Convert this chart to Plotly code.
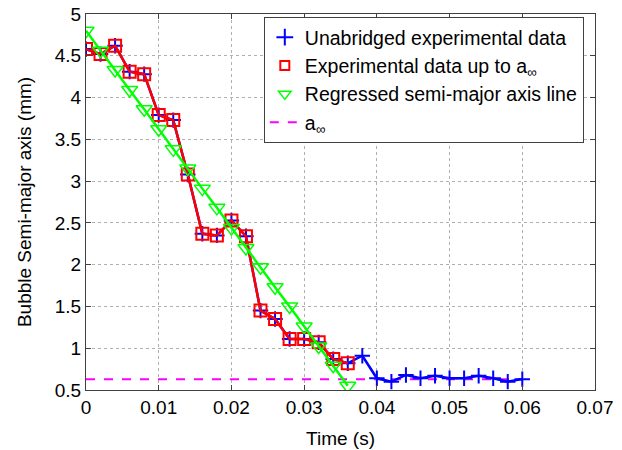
import plotly.graph_objects as go

time_all = [0.000, 0.002, 0.004, 0.006, 0.008, 0.010, 0.012, 0.014, 0.016, 0.018,
            0.020, 0.022, 0.024, 0.026, 0.028, 0.030, 0.032, 0.034, 0.036, 0.038,
            0.040, 0.042, 0.044, 0.046, 0.048, 0.050, 0.052, 0.054, 0.056, 0.058, 0.060]
unabridged = [4.58, 4.52, 4.62, 4.31, 4.28, 3.79, 3.73, 3.08, 2.37, 2.35,
              2.53, 2.34, 1.45, 1.35, 1.11, 1.11, 1.07, 0.87, 0.82, 0.91,
              0.64, 0.60, 0.68, 0.64, 0.67, 0.64, 0.64, 0.67, 0.64, 0.60, 0.63]
time_up_to = time_all[:19]
data_up_to = unabridged[:19]
regressed = [4.80, 4.56, 4.33, 4.09, 3.86, 3.62, 3.38, 3.15, 2.91, 2.68,
             2.44, 2.20, 1.97, 1.73, 1.50, 1.26, 1.02, 0.79, 0.55]
a_inf = 0.63
a_inf_x = [0.0, 0.060]

BLUE = "#0000ff"
RED = "#ff0000"
GREEN = "#00ff00"
MAGENTA = "#ff00ff"
FONT = "Arial, Liberation Sans, sans-serif"

fig = go.Figure()
fig.add_trace(go.Scatter(x=a_inf_x, y=[a_inf, a_inf], mode="lines",
                         line=dict(color=MAGENTA, width=2, dash="dash"),
                         showlegend=False))
fig.add_trace(go.Scatter(x=time_all, y=unabridged, mode="lines+markers",
                         line=dict(color=BLUE, width=2.5),
                         marker=dict(symbol="cross-thin-open", size=11, color=BLUE,
                                     line=dict(color=BLUE, width=2)),
                         showlegend=False))
fig.add_trace(go.Scatter(x=time_up_to, y=data_up_to, mode="lines+markers",
                         line=dict(color=RED, width=2.5),
                         marker=dict(symbol="square-open", size=12, color=RED, line=dict(color=RED, width=2)),
                         showlegend=False))
fig.add_trace(go.Scatter(x=time_up_to, y=regressed, mode="lines+markers",
                         line=dict(color=GREEN, width=2.5),
                         marker=dict(symbol="triangle-down-open", size=14, color=GREEN,
                                     line=dict(color=GREEN, width=1.5)),
                         showlegend=False))

# legend entries
fig.add_trace(go.Scatter(x=[None], y=[None], mode="markers", name="Unabridged experimental data",
                         marker=dict(symbol="cross-thin-open", size=12, color=BLUE,
                                     line=dict(color=BLUE, width=2))))
fig.add_trace(go.Scatter(x=[None], y=[None], mode="markers", name="Experimental data up to a<sub>∞</sub>",
                         marker=dict(symbol="square-open", size=9, color=RED, line=dict(color=RED, width=2))))
fig.add_trace(go.Scatter(x=[None], y=[None], mode="markers", name="Regressed semi-major axis line",
                         marker=dict(symbol="triangle-down-open", size=11, color=GREEN,
                                     line=dict(color=GREEN, width=1.5))))
fig.add_trace(go.Scatter(x=[None], y=[None], mode="lines", name="a<sub>∞</sub>",
                         line=dict(color=MAGENTA, width=2, dash="dash")))

axis_common = dict(showline=True, mirror="ticks", linecolor="#404040", linewidth=1,
                   ticks="inside", ticklen=5, tickcolor="#404040",
                   showgrid=True, gridcolor="#b0b0b0", griddash="dot", gridwidth=1,
                   zeroline=False, automargin=False, ticklabeloverflow="allow",
                   tickfont=dict(size=19, color="black", family=FONT))

fig.update_layout(
    width=622, height=450,
    margin=dict(l=86, r=27, t=14, b=60),
    paper_bgcolor="white", plot_bgcolor="white",
    font=dict(family=FONT, color="black"),
    xaxis=dict(range=[0, 0.07], dtick=0.01, tick0=0,
               title=dict(text="Time (s)", font=dict(size=19, family=FONT), standoff=14), **axis_common),
    yaxis=dict(range=[0.5, 5], dtick=0.5, tick0=0.5,
               title=dict(text="Bubble Semi-major axis (mm)", font=dict(size=19, family=FONT), standoff=18),
               **axis_common),
    legend=dict(x=0.978, y=0.992, xanchor="right", yanchor="top",
                bgcolor="white", bordercolor="#404040", borderwidth=1,
                font=dict(size=19.5, color="black", family=FONT), itemwidth=30, tracegroupgap=0),
)

# remove the default page margin so the 622x450 figure fills the window exactly
fig.write_html("out.html", config={"displayModeBar": False},
               post_script="document.body.style.margin='0px';")
